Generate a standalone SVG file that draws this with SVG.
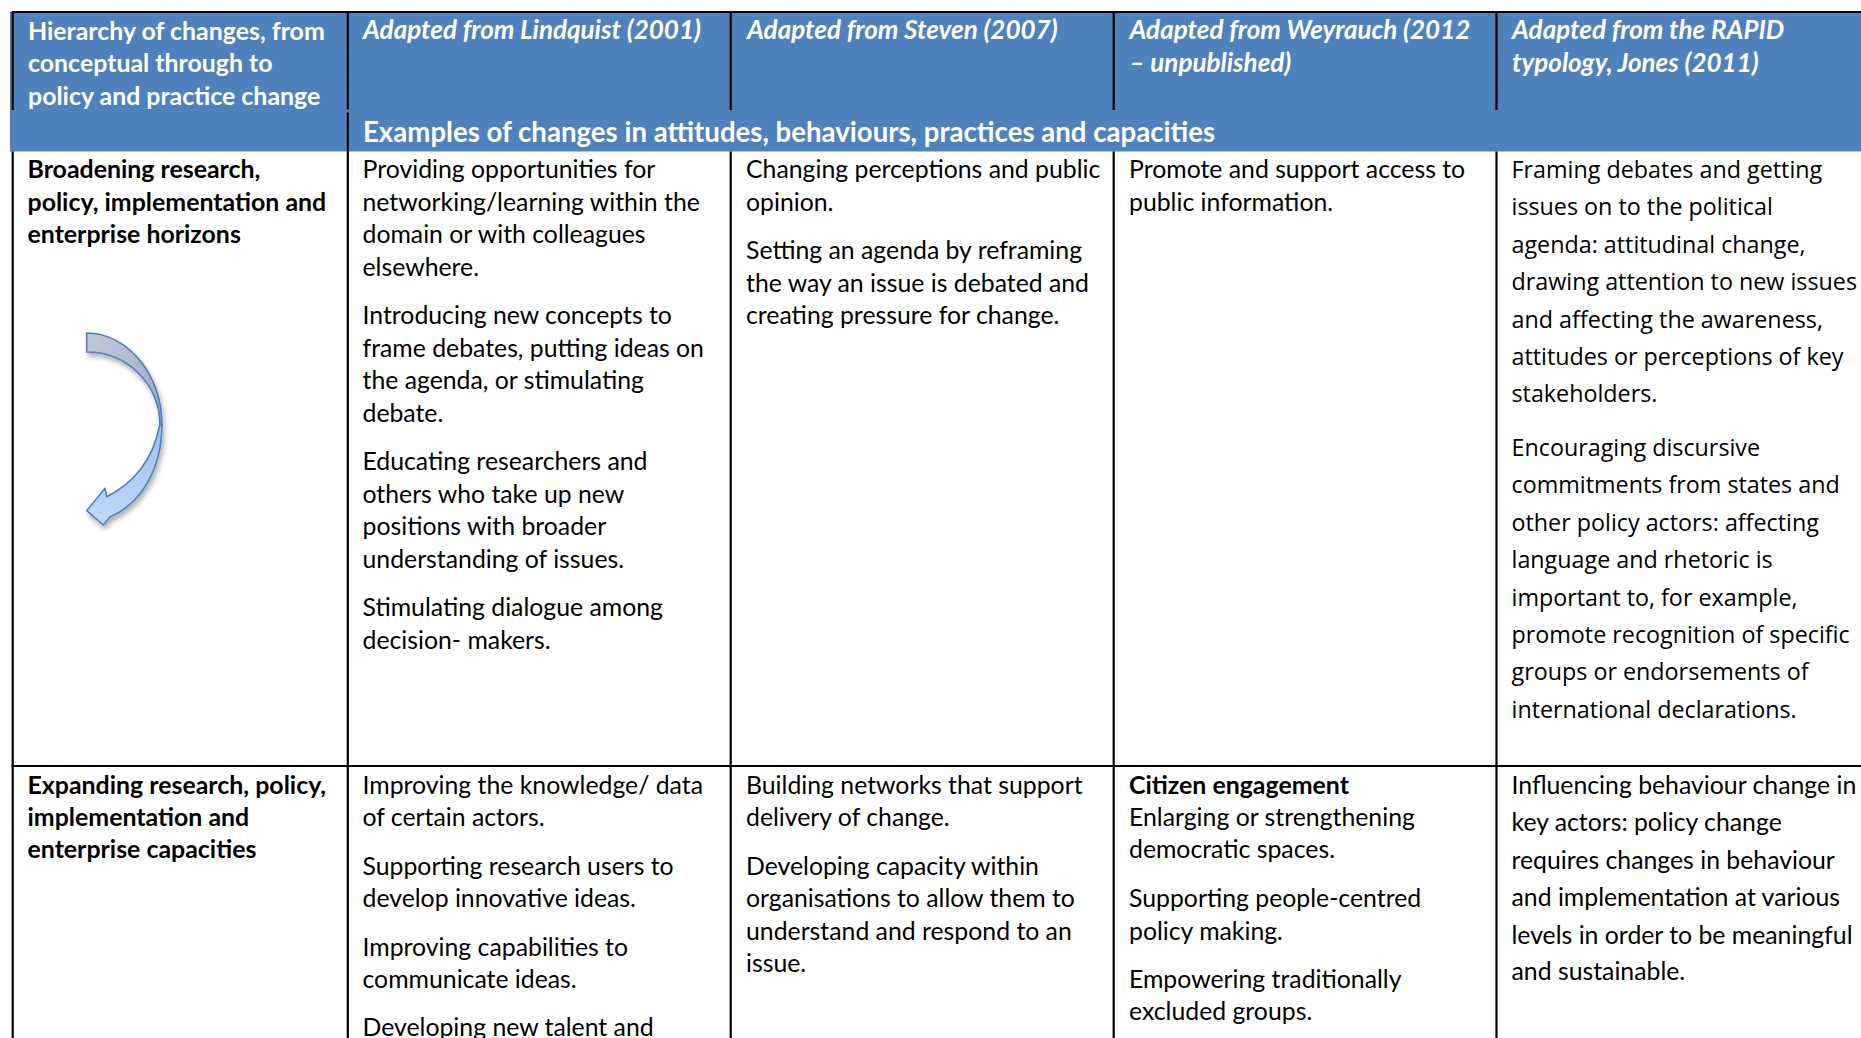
<svg xmlns="http://www.w3.org/2000/svg" width="1861" height="1038" viewBox="0 0 1861 1038">
<style>
.t{font-family:Lato,"Liberation Sans",sans-serif;font-size:24.8px;fill:#000}
.b{font-weight:700;font-size:24.9px}
.h{font-family:Lato,"Liberation Sans",sans-serif;font-size:24.9px;font-weight:700;fill:#fff}
.i{font-style:italic;font-size:26px}
.s{font-size:27.6px}
.o{font-family:"Open Sans","DejaVu Sans",sans-serif;font-size:23.3px;fill:#000}
.g{stroke:#000;stroke-width:2.2;fill:none}
</style>
<defs>
<linearGradient id="back" x1="0" y1="0" x2="1" y2="1">
<stop offset="0" stop-color="#c3cad8"/><stop offset="1" stop-color="#97a8c4"/>
</linearGradient>
<linearGradient id="front" x1="0" y1="0" x2="0" y2="1">
<stop offset="0" stop-color="#9dbfef"/><stop offset="1" stop-color="#c2d8f8"/>
</linearGradient>
<filter id="sh" x="-30%" y="-30%" width="160%" height="160%">
<feDropShadow dx="2" dy="4" stdDeviation="2.5" flood-color="#000" flood-opacity="0.3"/>
</filter>
</defs>

<g id="grid">
<rect x="10" y="12" width="1851" height="139.5" fill="#4F81BD"/>
<line class="g" x1="11.6" y1="12" x2="1861" y2="12"/>
<line class="g" x1="12.7" y1="12" x2="12.7" y2="110"/>
<line class="g" x1="12.7" y1="151.5" x2="12.7" y2="1038"/>
<line class="g" x1="347.8" y1="12" x2="347.8" y2="109.5"/>
<line class="g" x1="347.8" y1="112.5" x2="347.8" y2="1038"/>
<line class="g" x1="730.7" y1="12" x2="730.7" y2="110"/>
<line class="g" x1="730.7" y1="151.5" x2="730.7" y2="1038"/>
<line class="g" x1="1113.7" y1="12" x2="1113.7" y2="110"/>
<line class="g" x1="1113.7" y1="151.5" x2="1113.7" y2="1038"/>
<line class="g" x1="1496.5" y1="12" x2="1496.5" y2="110"/>
<line class="g" x1="1496.5" y1="151.5" x2="1496.5" y2="1038"/>
<line class="g" x1="11.6" y1="766" x2="1861" y2="766"/>
</g>

<g id="header-hierarchy">
<text class="h" x="28" y="39.5">Hierarchy of changes, from</text>
<text class="h" x="28" y="72">conceptual through to</text>
<text class="h" x="28" y="104.5">policy and practice change</text>
</g>
<g id="header-lindquist"><text class="h i" x="363" y="39">Adapted from Lindquist (2001)</text></g>
<g id="header-steven"><text class="h i" x="747" y="39">Adapted from Steven (2007)</text></g>
<g id="header-weyrauch">
<text class="h i" x="1129.5" y="39">Adapted from Weyrauch (2012</text>
<text class="h i" x="1129.5" y="71.5">– unpublished)</text>
</g>
<g id="header-rapid">
<text class="h i" x="1512" y="39">Adapted from the RAPID</text>
<text class="h i" x="1512" y="71.5">typology, Jones (2011)</text>
</g>
<g id="subheader"><text class="h s" x="363" y="142">Examples of changes in attitudes, behaviours, practices and capacities</text></g>

<g id="row1-level">
<text class="t b" x="27.5" y="178">Broadening research,</text>
<text class="t b" x="27.5" y="210.5">policy, implementation and</text>
<text class="t b" x="27.5" y="243">enterprise horizons</text>
</g>
<g id="arrow" filter="url(#sh)">
<path d="M86.7,333 C128,333 162,375 162,426 L160,426 C160,384 127,352 86.7,352 Z" fill="url(#back)" stroke="#4F81BD" stroke-width="1.6" stroke-linejoin="round"/>
<path d="M162,424 C162,468 142,503 110,517 L103.3,525 L86.7,510.7 L105,488.3 L106.7,496.7 C133,484 153,460 159.5,426 Z" fill="url(#front)" stroke="#4F81BD" stroke-width="1.6" stroke-linejoin="round"/>
</g>
<g id="row1-lindquist">
<text class="t" x="362.5" y="178">Providing opportunities for</text>
<text class="t" x="362.5" y="210.5">networking/learning within the</text>
<text class="t" x="362.5" y="243">domain or with colleagues</text>
<text class="t" x="362.5" y="275.5">elsewhere.</text>
<text class="t" x="362.5" y="324">Introducing new concepts to</text>
<text class="t" x="362.5" y="356.5">frame debates, putting ideas on</text>
<text class="t" x="362.5" y="389">the agenda, or stimulating</text>
<text class="t" x="362.5" y="421.5">debate.</text>
<text class="t" x="362.5" y="470">Educating researchers and</text>
<text class="t" x="362.5" y="502.5">others who take up new</text>
<text class="t" x="362.5" y="535">positions with broader</text>
<text class="t" x="362.5" y="567.5">understanding of issues.</text>
<text class="t" x="362.5" y="616">Stimulating dialogue among</text>
<text class="t" x="362.5" y="648.5">decision- makers.</text>
</g>
<g id="row1-steven">
<text class="t" x="746" y="178">Changing perceptions and public</text>
<text class="t" x="746" y="210.5">opinion.</text>
<text class="t" x="746" y="259">Setting an agenda by reframing</text>
<text class="t" x="746" y="291.5">the way an issue is debated and</text>
<text class="t" x="746" y="324">creating pressure for change.</text>
</g>
<g id="row1-weyrauch">
<text class="t" x="1129" y="178">Promote and support access to</text>
<text class="t" x="1129" y="210.5">public information.</text>
</g>
<g id="row1-rapid">
<text class="o" x="1511.5" y="178">Framing debates and getting</text>
<text class="o" x="1511.5" y="215.4">issues on to the political</text>
<text class="o" x="1511.5" y="252.8">agenda: attitudinal change,</text>
<text class="o" x="1511.5" y="290.2">drawing attention to new issues</text>
<text class="o" x="1511.5" y="327.6">and affecting the awareness,</text>
<text class="o" x="1511.5" y="365">attitudes or perceptions of key</text>
<text class="o" x="1511.5" y="402.4">stakeholders.</text>
<text class="o" x="1511.5" y="456">Encouraging discursive</text>
<text class="o" x="1511.5" y="493.4">commitments from states and</text>
<text class="o" x="1511.5" y="530.8">other policy actors: affecting</text>
<text class="o" x="1511.5" y="568.2">language and rhetoric is</text>
<text class="o" x="1511.5" y="605.6">important to, for example,</text>
<text class="o" x="1511.5" y="643">promote recognition of specific</text>
<text class="o" x="1511.5" y="680.4">groups or endorsements of</text>
<text class="o" x="1511.5" y="717.8">international declarations.</text>
</g>

<g id="row2-level">
<text class="t b" x="27.5" y="794">Expanding research, policy,</text>
<text class="t b" x="27.5" y="826">implementation and</text>
<text class="t b" x="27.5" y="858">enterprise capacities</text>
</g>
<g id="row2-lindquist">
<text class="t" x="362.5" y="794">Improving the knowledge/ data</text>
<text class="t" x="362.5" y="826">of certain actors.</text>
<text class="t" x="362.5" y="875">Supporting research users to</text>
<text class="t" x="362.5" y="907">develop innovative ideas.</text>
<text class="t" x="362.5" y="956">Improving capabilities to</text>
<text class="t" x="362.5" y="988">communicate ideas.</text>
<text class="t" x="362.5" y="1036">Developing new talent and</text>
</g>
<g id="row2-steven">
<text class="t" x="746" y="794">Building networks that support</text>
<text class="t" x="746" y="826">delivery of change.</text>
<text class="t" x="746" y="875">Developing capacity within</text>
<text class="t" x="746" y="907">organisations to allow them to</text>
<text class="t" x="746" y="939.5">understand and respond to an</text>
<text class="t" x="746" y="972">issue.</text>
</g>
<g id="row2-weyrauch">
<text class="t b" x="1129" y="794">Citizen engagement</text>
<text class="t" x="1129" y="826">Enlarging or strengthening</text>
<text class="t" x="1129" y="858">democratic spaces.</text>
<text class="t" x="1129" y="907">Supporting people-centred</text>
<text class="t" x="1129" y="939.5">policy making.</text>
<text class="t" x="1129" y="988">Empowering traditionally</text>
<text class="t" x="1129" y="1020">excluded groups.</text>
</g>
<g id="row2-rapid">
<text class="t" x="1511.5" y="794">Influencing behaviour change in</text>
<text class="t" x="1511.5" y="831">key actors: policy change</text>
<text class="t" x="1511.5" y="869">requires changes in behaviour</text>
<text class="t" x="1511.5" y="906">and implementation at various</text>
<text class="t" x="1511.5" y="944">levels in order to be meaningful</text>
<text class="t" x="1511.5" y="980">and sustainable.</text>
</g>
</svg>
